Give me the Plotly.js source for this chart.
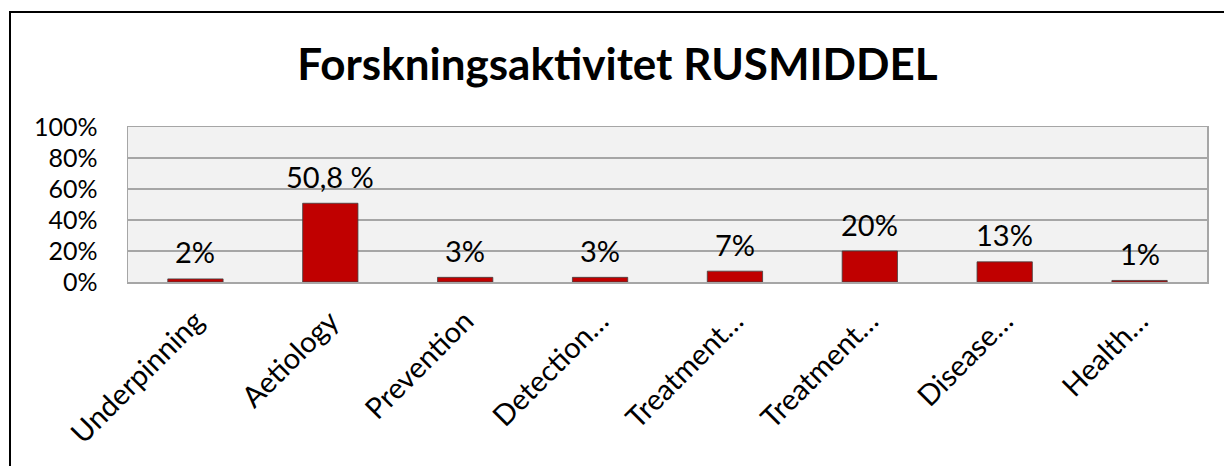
<!DOCTYPE html>
<html>
<head>
<meta charset="utf-8">
<script src="https://cdn.plot.ly/plotly-3.0.1.min.js"></script>
<style>
  html, body { margin: 0; padding: 0; background: #fff; width: 1224px; height: 466px; overflow: hidden; }
  #frame { position: absolute; left: 9px; top: 11px; width: 1215px; height: 455px;
           border-left: 2px solid #000; border-top: 2px solid #000; box-sizing: border-box; }
  #chart { width: 1213px; height: 453px; }
</style>
</head>
<body>
<div id="frame"><div id="chart"></div></div>
<script>
const categories = ["Underpinning", "Aetiology", "Prevention", "Detection…", "Treatment…", "Treatment…", "Disease…", "Health…"];
const categoryKeys = ["c1", "c2", "c3", "c4", "c5", "c6", "c7", "c8"];
const shares = [0.02, 0.508, 0.03, 0.03, 0.07, 0.20, 0.13, 0.01];
const shareLabels = ["2%", "50,8 %", "3%", "3%", "7%", "20%", "13%", "1%"];
const yTickValues = [0, 0.2, 0.4, 0.6, 0.8, 1.0];
const yTickLabels = ["0%", "20%", "40%", "60%", "80%", "100%"];

const FONT = "Lato, 'Open Sans', sans-serif";

const trace = {
  type: "bar",
  x: categoryKeys,
  y: shares,
  marker: { color: "#C00000", line: { color: "#404040", width: 0.8 } },
  hoverinfo: "skip"
};

const annotations = categoryKeys.map((k, i) => ({
  x: k, y: shares[i], xref: "x", yref: "y",
  text: shareLabels[i], showarrow: false,
  yanchor: "middle", yshift: 27,
  font: { family: FONT, size: 29, color: "#000" }
}));

const layout = {
  width: 1213, height: 453,
  margin: { l: 117, r: 17, t: 114, b: 184 },
  paper_bgcolor: "#ffffff",
  plot_bgcolor: "#F2F2F2",
  showlegend: false,
  bargap: 0.59,
  title: {
    text: "<b>Forskningsaktivitet RUSMIDDEL</b>",
    font: { family: FONT, size: 44, color: "#000" },
    x: 0.5, xref: "container", xanchor: "center",
    y: 0.885, yref: "container", yanchor: "middle"
  },
  xaxis: {
    type: "category",
    tickvals: categoryKeys,
    ticktext: categories,
    tickangle: -45,
    tickfont: { family: FONT, size: 29, color: "#000" },
    ticklabelstandoff: 9,
    showline: true, linecolor: "#A6A6A6", linewidth: 1.5, mirror: true,
    ticks: "", showgrid: false, zeroline: false
  },
  yaxis: {
    range: [0, 1],
    tickvals: yTickValues,
    ticktext: yTickLabels,
    tickfont: { family: FONT, size: 25, color: "#000" },
    ticklabelstandoff: 24,
    ticks: "",
    showgrid: true, gridcolor: "#A6A6A6", gridwidth: 1.5,
    showline: true, linecolor: "#A6A6A6", linewidth: 1.5, mirror: true,
    zeroline: false
  },
  annotations: annotations
};

Plotly.newPlot("chart", [trace], layout, { displayModeBar: false, staticPlot: true });
</script>
</body>
</html>
